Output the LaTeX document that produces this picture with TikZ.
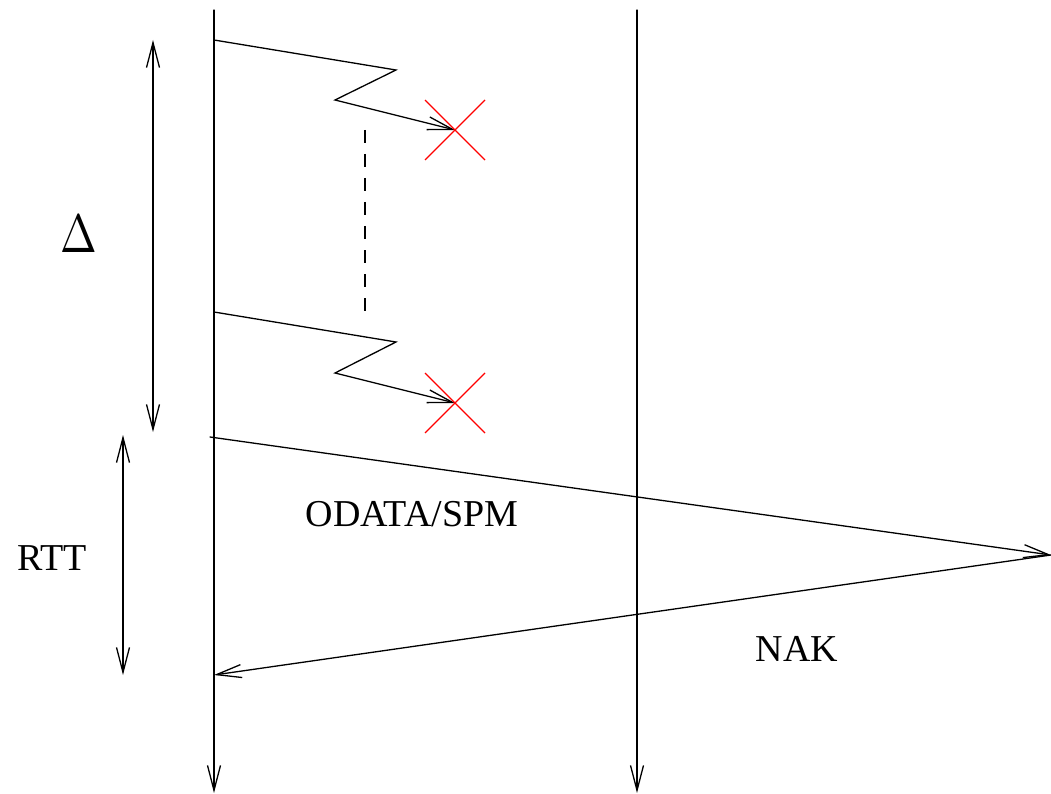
\documentclass[tikz,border=0pt]{standalone}
\usepackage{fontspec}
\usepackage{graphicx}
\setmainfont{Liberation Serif}
\usetikzlibrary{arrows.meta,calc}
\begin{document}
\begin{tikzpicture}[x=1pt,y=-1pt,
  ln/.style={line width=1.3pt,line cap=round,line join=miter},
  tip/.style={-{Straight Barb[length=25pt,width=13pt,line width=1.3pt]}},
  dtip/.style={{Straight Barb[length=25pt,width=13pt,line width=1.3pt]}-{Straight Barb[length=25pt,width=13pt,line width=1.3pt]}},
  cross/.style={red,line width=1.3pt},
  lbl/.style={inner sep=0pt,font=\fontsize{38}{42}\selectfont}]
\useasboundingbox (0,0) rectangle (1051,794);
% timelines
\coordinate (Ltop) at (214,10);
\coordinate (Lbot) at (214,793);
\coordinate (Rtop) at (637,10);
\coordinate (Rbot) at (637,793);
\draw[ln,tip] (Ltop) -- (Lbot);
\draw[ln,tip] (Rtop) -- (Rbot);
% Delta interval
\coordinate (Dt) at (153,40);
\coordinate (Db) at (153,432);
\draw[ln,dtip] (Dt) -- (Db);
\node[inner sep=0pt] (delta) at (79,234) {\scalebox{4.4}[5.4]{$\Delta$}};
% RTT interval
\coordinate (Rt) at (123,435);
\coordinate (Rb) at (123,675);
\draw[ln,dtip] (Rt) -- (Rb);
\node[lbl] (rtt) at (52,558) {RTT};
% zigzag 1
\coordinate (z1a) at (214,40);
\coordinate (z1b) at (396,70);
\coordinate (z1c) at (335,100);
\coordinate (x1) at (455,130);
\draw[ln,tip] (z1a) -- (z1b) -- (z1c) -- (x1);
\draw[cross] ($(x1)+(-30,-30)$) -- ($(x1)+(30,30)$);
\draw[cross] ($(x1)+(-30,30)$) -- ($(x1)+(30,-30)$);
% dashed
\coordinate (d1) at (365,130);
\coordinate (d2) at (365,312);
\draw[line width=1.3pt,dash pattern=on 13pt off 11pt] (d1) -- (d2);
% zigzag 2
\coordinate (z2a) at (214,312);
\coordinate (z2b) at (396,342);
\coordinate (z2c) at (335,373);
\coordinate (x2) at (455,403);
\draw[ln,tip] (z2a) -- (z2b) -- (z2c) -- (x2);
\draw[cross] ($(x2)+(-30,-30)$) -- ($(x2)+(30,30)$);
\draw[cross] ($(x2)+(-30,30)$) -- ($(x2)+(30,-30)$);
% ODATA / NAK
\coordinate (os) at (210,437);
\coordinate (far) at (1051,555);
\coordinate (ne) at (214,675);
\draw[ln,tip] (os) -- (far);
\draw[ln,tip] (far) -- (ne);
\node[lbl] (odata) at (412,514) {ODATA/SPM};
\node[lbl] (nak) at (797,649) {NAK};
\end{tikzpicture}
\end{document}
